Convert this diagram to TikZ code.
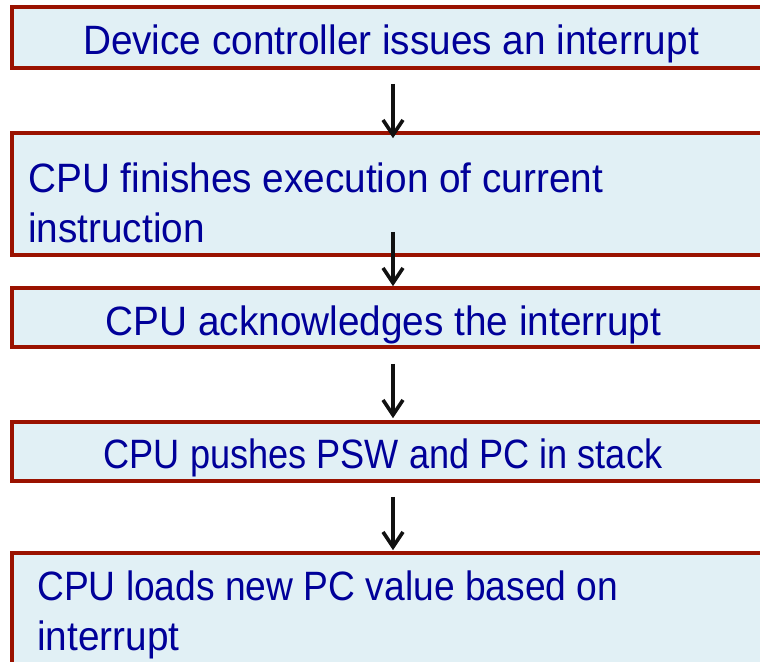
\documentclass[tikz,border=0pt]{standalone}
\usepackage{fontspec}
\setmainfont{Liberation Sans}[FakeStretch=0.945]
\usetikzlibrary{arrows.meta}
\definecolor{boxfill}{RGB}{225,240,245}
\definecolor{boxline}{RGB}{154,18,0}
\definecolor{txtblue}{RGB}{0,0,153}
\definecolor{arrblack}{RGB}{17,17,17}
\tikzset{
  stepbox/.style={draw=boxline, fill=boxfill, line width=3.6pt, rectangle, inner sep=0pt},
  steptext/.style={text=txtblue, inner sep=0pt, font=\fontsize{41}{50}\selectfont},
  flowarrow/.style={draw=arrblack, line width=3.6pt, -{Straight Barb[length=15pt,width=20pt]}}
}
\begin{document}
\begin{tikzpicture}[x=1pt,y=-1pt]
\useasboundingbox (0,0) rectangle (760,661);
\clip (0,0) rectangle (760,661);
\node[stepbox, minimum width=758pt, minimum height=61pt] (b1) at (391,37.5) {};
\node[stepbox, minimum width=758pt, minimum height=122pt] (b2) at (391,194) {};
\node[stepbox, minimum width=758pt, minimum height=59pt] (b3) at (391,317.5) {};
\node[stepbox, minimum width=758pt, minimum height=59pt] (b4) at (391,451.5) {};
\node[stepbox, minimum width=758pt, minimum height=160pt] (b5) at (391,633) {};
\node[steptext, anchor=base] (t1) at (391,55) {Device controller issues an interrupt};
\node[steptext, anchor=base west, align=left] (t2) at (28,242) {CPU finishes execution of current\\instruction};
\node[steptext, anchor=base] (t3) at (383.5,335) {CPU acknowledges the interrupt};
\node[steptext, anchor=base] (t4) at (383,468) {\scalebox{0.933}[1]{CPU pushes PSW and PC in stack}};
\node[steptext, anchor=base west, align=left] (t5) at (37,650) {\scalebox{0.96}[1]{CPU loads new PC value based on}\\interrupt};
\draw[flowarrow] ([xshift=2pt,yshift=-14pt]b1.south) -- ([xshift=2pt,yshift=-7pt]b2.north);
\draw[flowarrow] ([xshift=2pt,yshift=25pt]b2.south) -- ([xshift=2pt]b3.north);
\draw[flowarrow] ([xshift=2pt,yshift=-15pt]b3.south) -- ([xshift=2pt,yshift=2pt]b4.north);
\draw[flowarrow] ([xshift=2pt,yshift=-14pt]b4.south) -- ([xshift=2pt,yshift=1pt]b5.north);
\end{tikzpicture}
\end{document}
